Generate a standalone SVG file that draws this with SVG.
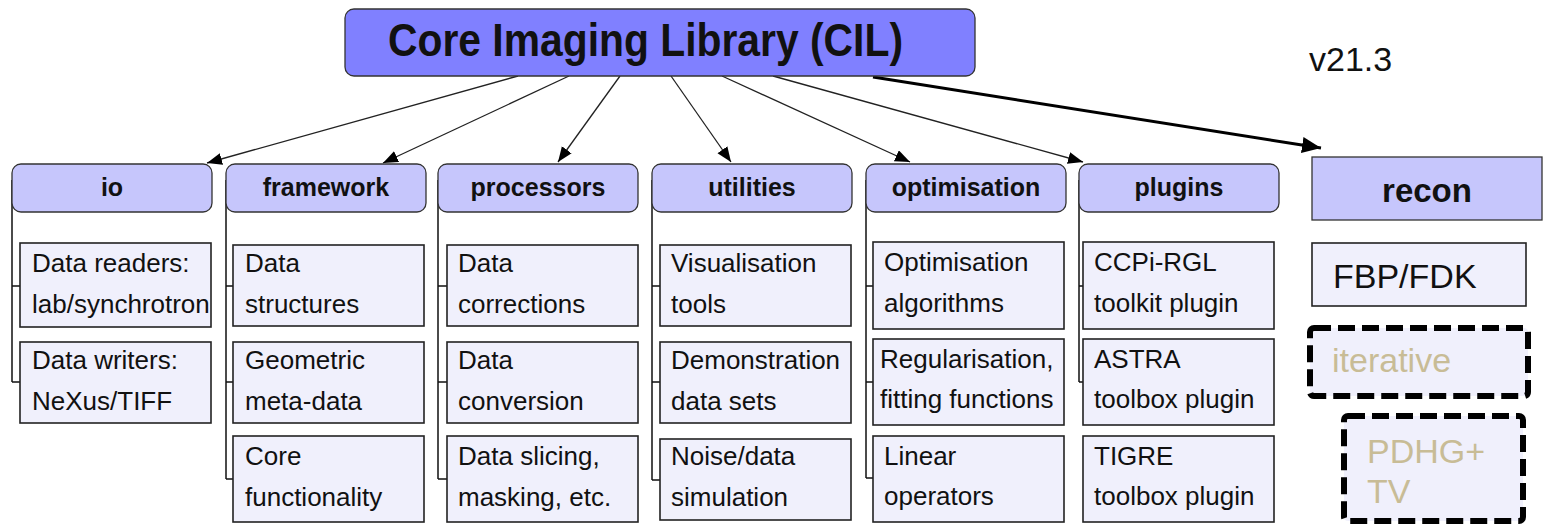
<svg xmlns="http://www.w3.org/2000/svg" width="1547" height="527" viewBox="0 0 1547 527">
<style>
text{font-family:"Liberation Sans",Arial,sans-serif;fill:#111}
.title{fill:#8080ff;stroke:#333;stroke-width:1.3}
.hdr{fill:#c6c6fc;stroke:#333;stroke-width:1.3}
.hdrt{font-weight:bold;font-size:25px;text-anchor:middle}
.item{fill:#f0f0fc;stroke:#222;stroke-width:1.6}
.it{font-size:26px}
.dash{fill:#f0f0fc;stroke:#000;stroke-width:6;stroke-dasharray:17 7}
.tan{fill:#c8bc96;font-size:34px}
.arr{fill:none;stroke:#222;stroke-width:1.3}
.tree{fill:none;stroke:#111;stroke-width:1.5}
</style>
<defs>
<marker id="ah" markerUnits="userSpaceOnUse" markerWidth="16" markerHeight="14" refX="15" refY="6" orient="auto">
<path d="M0,0 L15,6 L0,12 z" fill="#000"/>
</marker>
<marker id="ahb" markerUnits="userSpaceOnUse" markerWidth="20" markerHeight="18" refX="19" refY="8" orient="auto">
<path d="M0,0 L19,8 L0,16 z" fill="#000"/>
</marker>
</defs>
<rect width="1547" height="527" fill="#fff"/>

<g id="connectors">
<path class="arr" d="M518,76 L207,163" marker-end="url(#ah)"/>
<path class="arr" d="M569,76 L383,163" marker-end="url(#ah)"/>
<path class="arr" d="M620,76 L558,162" marker-end="url(#ah)"/>
<path class="arr" d="M671,76 L731,162" marker-end="url(#ah)"/>
<path class="arr" d="M722,76 L910,162" marker-end="url(#ah)"/>
<path class="arr" d="M773,76 L1083,162" marker-end="url(#ah)"/>
<path d="M873,77 L1321,148" fill="none" stroke="#000" stroke-width="3" marker-end="url(#ahb)"/>
<path class="tree" d="M12,180 V382 M12,286 H20 M12,382 H20"/>
<path class="tree" d="M226,180 V479 M226,286 H233 M226,382 H233 M226,479 H233"/>
<path class="tree" d="M438,180 V479 M438,286 H447 M438,382 H447 M438,479 H447"/>
<path class="tree" d="M652,180 V480 M652,286 H660 M652,382 H660 M652,480 H660"/>
<path class="tree" d="M866,180 V478 M866,286 H873 M866,382 H873 M866,478 H873"/>
<path class="tree" d="M1079,180 V382 M1079,286 H1083 M1079,382 H1083"/>
</g>

<g id="cil">
<rect class="title" x="345" y="9" width="630" height="67" rx="9"/>
<text x="388" y="56" font-size="46" font-weight="bold" textLength="515" lengthAdjust="spacingAndGlyphs">Core Imaging Library (CIL)</text>
</g>
<g id="version"><text x="1309" y="71" font-size="34">v21.3</text></g>

<g id="io">
<rect class="hdr" x="12" y="164" width="200" height="48" rx="9"/>
<text class="hdrt" x="112" y="196">io</text>
</g>
<g id="io-readers"><rect class="item" x="20" y="243" width="191" height="84"/><text class="it" x="32" y="272">Data readers:</text><text class="it" x="32" y="313">lab/synchrotron</text></g>
<g id="io-writers"><rect class="item" x="20" y="342" width="191" height="81"/><text class="it" x="32" y="369">Data writers:</text><text class="it" x="32" y="410">NeXus/TIFF</text></g>

<g id="framework">
<rect class="hdr" x="226" y="164" width="200" height="48" rx="9"/>
<text class="hdrt" x="326" y="196">framework</text>
</g>
<g id="fw-data"><rect class="item" x="233" y="245" width="191" height="81"/><text class="it" x="245" y="272">Data</text><text class="it" x="245" y="313">structures</text></g>
<g id="fw-geom"><rect class="item" x="233" y="342" width="191" height="81"/><text class="it" x="245" y="369">Geometric</text><text class="it" x="245" y="410">meta-data</text></g>
<g id="fw-core"><rect class="item" x="233" y="436" width="191" height="86"/><text class="it" x="245" y="465">Core</text><text class="it" x="245" y="506">functionality</text></g>

<g id="processors">
<rect class="hdr" x="438" y="164" width="200" height="48" rx="9"/>
<text class="hdrt" x="538" y="196">processors</text>
</g>
<g id="pr-corr"><rect class="item" x="447" y="245" width="191" height="81"/><text class="it" x="458" y="272">Data</text><text class="it" x="458" y="313">corrections</text></g>
<g id="pr-conv"><rect class="item" x="447" y="342" width="191" height="81"/><text class="it" x="458" y="369">Data</text><text class="it" x="458" y="410">conversion</text></g>
<g id="pr-slice"><rect class="item" x="447" y="436" width="191" height="86"/><text class="it" x="458" y="465">Data slicing,</text><text class="it" x="458" y="506">masking, etc.</text></g>

<g id="utilities">
<rect class="hdr" x="652" y="164" width="200" height="48" rx="9"/>
<text class="hdrt" x="752" y="196">utilities</text>
</g>
<g id="ut-vis"><rect class="item" x="660" y="245" width="191" height="81"/><text class="it" x="671" y="272">Visualisation</text><text class="it" x="671" y="313">tools</text></g>
<g id="ut-demo"><rect class="item" x="660" y="342" width="191" height="81"/><text class="it" x="671" y="369">Demonstration</text><text class="it" x="671" y="410">data sets</text></g>
<g id="ut-noise"><rect class="item" x="660" y="439" width="191" height="81"/><text class="it" x="671" y="465">Noise/data</text><text class="it" x="671" y="506">simulation</text></g>

<g id="optimisation">
<rect class="hdr" x="866" y="164" width="200" height="48" rx="9"/>
<text class="hdrt" x="966" y="196">optimisation</text>
</g>
<g id="op-alg"><rect class="item" x="873" y="242" width="191" height="87"/><text class="it" x="884" y="271">Optimisation</text><text class="it" x="884" y="312">algorithms</text></g>
<g id="op-reg"><rect class="item" x="873" y="339" width="191" height="86"/><text class="it" x="880" y="368">Regularisation,</text><text class="it" x="880" y="408">fitting functions</text></g>
<g id="op-lin"><rect class="item" x="873" y="436" width="191" height="86"/><text class="it" x="884" y="465">Linear</text><text class="it" x="884" y="505">operators</text></g>

<g id="plugins">
<rect class="hdr" x="1079" y="164" width="200" height="48" rx="9"/>
<text class="hdrt" x="1179" y="196">plugins</text>
</g>
<g id="pl-ccpi"><rect class="item" x="1083" y="242" width="191" height="87"/><text class="it" x="1094" y="271">CCPi-RGL</text><text class="it" x="1094" y="312">toolkit plugin</text></g>
<g id="pl-astra"><rect class="item" x="1083" y="339" width="191" height="86"/><text class="it" x="1094" y="368">ASTRA</text><text class="it" x="1094" y="408">toolbox plugin</text></g>
<g id="pl-tigre"><rect class="item" x="1083" y="436" width="191" height="86"/><text class="it" x="1094" y="465">TIGRE</text><text class="it" x="1094" y="505">toolbox plugin</text></g>

<g id="recon">
<rect class="hdr" x="1312" y="157" width="230" height="63"/>
<text x="1427" y="202" font-size="33" font-weight="bold" text-anchor="middle">recon</text>
</g>
<g id="fbp"><rect class="item" x="1312" y="243" width="214" height="63"/><text x="1333" y="288" font-size="34">FBP/FDK</text></g>
<g id="iterative"><rect class="dash" x="1310" y="328" width="218" height="68" rx="4"/><text class="tan" x="1332" y="372">iterative</text></g>
<g id="pdhg"><rect class="dash" x="1344" y="416" width="179" height="105" rx="4"/><text class="tan" x="1367" y="463">PDHG+</text><text class="tan" x="1367" y="503">TV</text></g>
</svg>
